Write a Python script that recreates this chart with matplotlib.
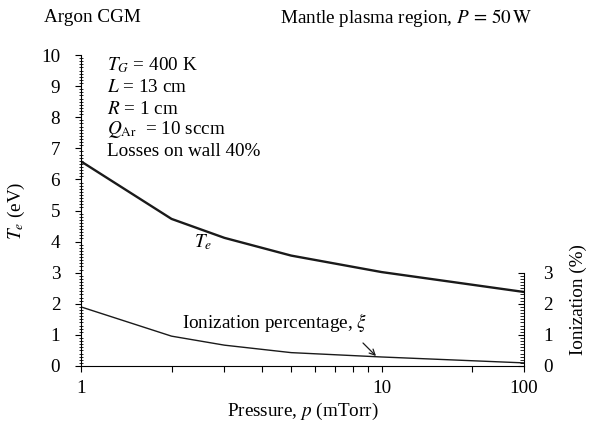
import numpy as np
import matplotlib
matplotlib.use("Agg")
import matplotlib.pyplot as plt
from matplotlib.ticker import FixedLocator, NullFormatter, MultipleLocator

plt.rcParams['font.family'] = ['Liberation Serif', 'DejaVu Serif']
plt.rcParams['mathtext.fontset'] = 'stix'

pressure = [1, 2, 3, 5, 10, 100]
te_values = [6.58, 4.73, 4.12, 3.55, 3.02, 2.38]
ion_values = [1.9, 0.96, 0.67, 0.43, 0.29, 0.1]
xtick_vals = [1, 10, 100]
xtick_labels = ["1", "10", "100"]
xminor_vals = [2, 3, 4, 5, 6, 7, 8, 9, 43]

K = 142.0 / 300.0

def fwd(p):
    p = np.asarray(p, dtype=float)
    lp = np.log10(np.clip(p, 1e-9, None))
    return np.where(lp <= 1, lp, 1 + (lp - 1) * K)

def inv(t):
    t = np.asarray(t, dtype=float)
    return np.where(t <= 1, 10 ** t, 10 ** (1 + (t - 1) / K))

FS = 13.8
fig = plt.figure(figsize=(5.93, 4.34), dpi=100)
ax = fig.add_axes([81/593, 1-366/434, (524-81)/593, (366-55)/434])
ax.set_xscale('function', functions=(fwd, inv))
ax.plot(pressure, te_values, color='#1a1a1a', lw=1.7, solid_joinstyle='miter')
ax.plot(pressure, ion_values, color='#1a1a1a', lw=1.0)
ax.set_xlim(1, 100)
ax.set_ylim(0, 10)

ax.spines['top'].set_visible(False)
ax.spines['right'].set_visible(False)
ax.xaxis.set_major_locator(FixedLocator(xtick_vals))
ax.set_xticklabels(xtick_labels, fontsize=FS)
ax.xaxis.set_minor_locator(FixedLocator(xminor_vals))
ax.xaxis.set_minor_formatter(NullFormatter())
ax.tick_params(axis='x', which='both', direction='out', length=4, width=0.8, pad=6)
ax.yaxis.set_major_locator(MultipleLocator(1))
ax.yaxis.set_minor_locator(MultipleLocator(0.1))
ax.tick_params(axis='y', which='major', direction='out', length=4, width=0.8, labelsize=FS, pad=11)
ax.tick_params(axis='y', which='minor', direction='inout', length=3, width=0.6)

ax2 = ax.twinx()
ax2.set_ylim(0, 10)
ax2.spines['top'].set_visible(False)
ax2.spines['left'].set_visible(False)
ax2.spines['bottom'].set_visible(False)
ax2.spines['right'].set_bounds(0, 3)
ax2.yaxis.set_major_locator(FixedLocator([0, 1, 2, 3]))
ax2.yaxis.set_minor_locator(FixedLocator(np.arange(0, 3.01, 0.1)))
ax2.tick_params(axis='y', which='major', direction='in', length=4, width=0.8, labelsize=FS, pad=14)
ax2.tick_params(axis='y', which='minor', direction='in', length=3, width=0.6)

ax.set_xlabel(r"Pressure, $p$ (mTorr)", fontsize=FS, labelpad=3)
ax.set_ylabel(r"$T_e$ (eV)", fontsize=FS, labelpad=10)
fig.text(578/593, 1-300/434, "Ionization (%)", rotation=90, fontsize=FS, ha='center', va='center')

fig.text(44/593, 1-18/434, "Argon CGM", fontsize=FS, ha='left', va='center')
fig.text(280/593, 1-18/434, r"Mantle plasma region, $P\,=\,50\,\mathrm{W}$", fontsize=FS, ha='left', va='center')

lines = [(r"$T_G$ = 400 K", 65), (r"$L$ = 13 cm", 88), (r"$R$ = 1 cm", 109),
         (r"$Q_{\mathrm{Ar}}$  = 10 sccm", 129), ("Losses on wall 40%", 151)]
for s, yy in lines:
    fig.text(107/593, 1-yy/434, s, fontsize=FS, ha='left', va='center')

fig.text(194/593, 1-242/434, r"$T_e$", fontsize=FS, ha='left', va='center')
fig.text(182/593, 1-323/434, r"Ionization percentage, $\xi$", fontsize=FS, ha='left', va='center')
ax.annotate("", xy=(376/593, 1-356/434), xytext=(363/593, 1-343/434),
            xycoords='figure fraction', textcoords='figure fraction',
            arrowprops=dict(arrowstyle='->', lw=0.9, color='#1a1a1a', shrinkA=0, shrinkB=0))

fig.savefig("out.png", dpi=100)
